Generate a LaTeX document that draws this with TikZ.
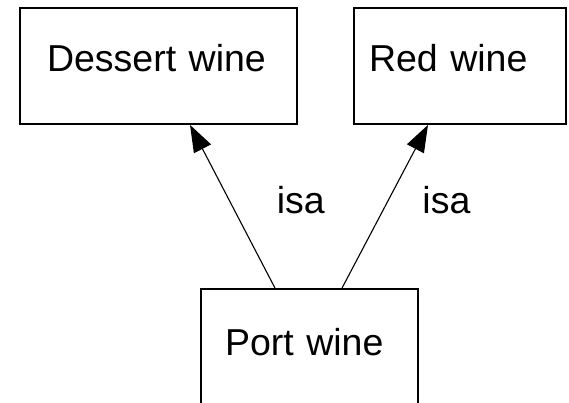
\documentclass[tikz,border=0pt]{standalone}
\usepackage{fontspec}
\setmainfont{Liberation Sans}
\usetikzlibrary{arrows.meta}

\tikzset{
	wine/.style={draw, line width=1.8pt, inner sep=0pt, align=left,
		text height=27pt, text depth=15pt, minimum height=116pt,
		font=\fontsize{37.5}{40}\selectfont},
	isalink/.style={-{Triangle[length=27pt,width=19pt]}, line width=1.1pt},
	isalabel/.style={anchor=base west, xshift=37pt, font=\fontsize{37.5}{40}\selectfont}
}

\begin{document}
\begin{tikzpicture}[x=1pt, y=-1pt]
		\useasboundingbox (0, 0) rectangle (569, 403);
		\clip (0, 0) rectangle (569, 403);
		
		\node[wine, text width=223pt, inner xsep=27pt] (dessert) at (158.5, 66) {Dessert wine};
		
		\node[wine, text width=182pt, inner xsep=15pt] (red) at (460, 66) {Red wine};
		
		\node[wine, text width=169pt, inner xsep=24pt, minimum height=120pt] (port) at (309.5, 349) {Port wine};
		
		\draw[isalink] ([xshift=-34.5pt]port.north) -- ([xshift=31.5pt]dessert.south)
			node[isalabel, pos=0.46] {isa};
		\draw[isalink] ([xshift=32.5pt]port.north) -- ([xshift=-32pt]red.south)
			node[isalabel, pos=0.46] {isa};
	\end{tikzpicture}
\end{document}
